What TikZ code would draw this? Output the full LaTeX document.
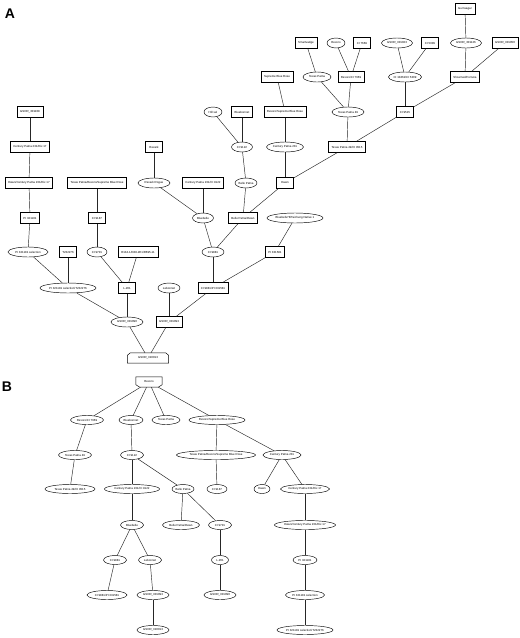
\documentclass[tikz,border=0pt]{standalone}
\usepackage{fontspec}
\setmainfont{Liberation Sans}
\usetikzlibrary{shapes.geometric}
\newcommand\zt[1]{\makebox[0pt]{#1}}
\tikzset{
  lbl/.style={font=\fontsize{2.9}{3}\selectfont},
  bx/.style={lbl, draw, rectangle, inner xsep=3pt, inner ysep=0pt, minimum height=11pt, minimum width=17pt, line width=0.45pt},
  el/.style={lbl, draw, ellipse, inner sep=0pt, minimum height=10pt, line width=0.45pt},
  bel/.style={el, minimum height=9pt},
  hs/.style={lbl, rectangle, inner sep=0pt, minimum height=10pt},
  edge/.style={line width=0.45pt, black!85},
  panel/.style={font=\fontsize{14}{14}\selectfont\bfseries}
}
\begin{document}
\begin{tikzpicture}[x=1pt,y=-1pt]
\useasboundingbox (0,0) rectangle (520,638);
\fill[white] (0,0) rectangle (520,638);

% ---------------- Panel A ----------------
\node[panel] (labA) at (10,14) {A};

\node[bx] (gum) at (465,9) {Gumsagar};

\node[bx] (smart) at (306,43) {Smartvadge};
\node[el,minimum width=18pt] (rex) at (336,43) {\zt{Rexoro}};
\node[bx] (ci7669) at (362,43) {CI 7669};
\node[el,minimum width=31pt] (g023) at (397,43) {\zt{GSOR\_301023}};
\node[bx] (ci5309) at (430,43) {CI 5309};
\node[el,minimum width=31pt] (g126) at (466,43) {\zt{GSOR\_301126}};
\node[bx] (g050) at (505,43) {GSOR\_301050};

\node[bx] (sbr) at (277,77) {Supreme Blue Rose};
\node[el,minimum width=28pt] (tp) at (317,77) {\zt{Texas Patna}};
\node[bx] (rexci) at (351,77) {Rexoro/CI 7669};
\node[el,minimum width=33pt] (ci10462) at (405,77) {\zt{CI 10462/CI 5309}};
\node[bx] (shoe) at (465,77) {Shoemed/Fortuna};

\node[bx] (g108) at (30,112) {GSOR\_301108};
\node[el,minimum width=18pt] (hill) at (213,112) {\zt{Hill sel}};
\node[bx] (bonnet) at (242,112) {Bluebonnet};
\node[bx] (rsbr) at (285,112) {Rexoro/Supreme Blue Rose};
\node[el,minimum width=32pt] (tp49) at (348,112) {\zt{Texas Patna 49}};
\node[bx] (ci9515) at (405,112) {CI 9515};

\node[bx] (cpdix) at (30,147) {Century Patna 231/Dix 17};
\node[bx] (rexark) at (154,147) {Rexark};
\node[el,minimum width=21pt] (ci9122) at (242,147) {\zt{CI 9122}};
\node[el,minimum width=37pt] (cp231) at (285,147) {\zt{Century Patna 231}};
\node[bx] (tp49ci) at (347,147) {Texas Patna 49/CI 9515};

\node[bx] (dcpdix) at (29,183) {Dawn/Century Patna 231/Dix 17};
\node[bx] (tprsbr) at (97,183) {Texas Patna/Rexoro/Supreme Blue Rose};
\node[el,minimum width=32pt] (rrogue) at (154,183) {\zt{Rexark Rogue}};
\node[bx] (cpci) at (203,183) {Century Patna 231/CI 9122};
\node[el,minimum width=22pt] (belle) at (246,183) {\zt{Belle Patna}};
\node[bx] (dawn) at (285,183) {Dawn};

\node[bx] (pi321) at (30,218) {PI 321181};
\node[bx] (ci9187) at (97,218) {CI 9187};
\node[el,minimum width=21pt] (bluebelle) at (203,218) {\zt{Bluebelle}};
\node[bx] (bpdawn) at (243,218) {Belle Patna/Dawn};
\node[el,minimum width=56pt] (bb8) at (295,218) {\zt{Bluebelle*8/Taichung Native 1}};

\node[el,minimum width=40pt] (pisel) at (28,252) {\zt{PI 321181 selection}};
\node[bx] (t232) at (68,252) {T232276};
\node[el,minimum width=20pt] (ci9701) at (97,252) {\zt{CI 9701}};
\node[bx] (r134) at (138,252) {R134-1/R48-2E1/R695-11};
\node[el,minimum width=22pt] (ci9881) at (213,252) {\zt{CI 9881}};
\node[bx] (pi331) at (275,252) {PI 331581};

\node[el,minimum width=56pt] (piselT) at (68,288) {\zt{PI 321181 selection/T232276}};
\node[bx] (l201) at (127,288) {L-201};
\node[el,minimum width=22pt] (lebonnet) at (169,288) {\zt{Lebonnet}};
\node[bx] (ci9881pi) at (213,288) {CI 9881/PI 331581};

\node[el,minimum width=32pt] (g090) at (127,322) {\zt{GSOR\_301090}};
\node[bx] (g093) at (169,322) {GSOR\_301093};

\node[hs,minimum width=41pt] (g013) at (148,358) {GSOR\_310013};
\draw[line width=0.45pt] (g013.south west) -- (g013.south east) -- ([yshift=-2.5pt]g013.north east)
  -- ([xshift=-3pt]g013.north east) -- ([xshift=3pt]g013.north west)
  -- ([yshift=-2.5pt]g013.north west) -- cycle;

% edges A
\draw[edge] (gum) -- (g126);
\draw[edge] (g126) -- (shoe);
\draw[edge] (g050) -- (shoe);
\draw[edge] (smart) -- (tp);
\draw[edge] (rex) -- (rexci);
\draw[edge] (ci7669) -- (rexci);
\draw[edge] (g023) -- (ci10462);
\draw[edge] (ci5309) -- (ci10462);
\draw[edge] (tp) -- (tp49);
\draw[edge] (rexci) -- (tp49);
\draw[edge] (ci10462) -- (ci9515);
\draw[edge] (shoe) -- (ci9515);
\draw[edge] (sbr) -- (rsbr);
\draw[edge] (rsbr) -- (cp231);
\draw[edge] (tp49) -- (tp49ci);
\draw[edge] (ci9515) -- (tp49ci);
\draw[edge] (cp231) -- (dawn);
\draw[edge] (tp49ci) -- (dawn);
\draw[edge] (hill) -- (ci9122);
\draw[edge] (bonnet) -- (ci9122);
\draw[edge] (ci9122) -- (belle);
\draw[edge] (belle) -- (bpdawn);
\draw[edge] (dawn) -- (bpdawn);
\draw[edge] (rexark) -- (rrogue);
\draw[edge] (rrogue) -- (bluebelle);
\draw[edge] (cpci) -- (bluebelle);
\draw[edge] (bluebelle) -- (ci9881);
\draw[edge] (bpdawn) -- (ci9881);
\draw[edge] (ci9881) -- (ci9881pi);
\draw[edge] (bb8) -- (pi331);
\draw[edge] (pi331) -- (ci9881pi);
\draw[edge] (g108) -- (cpdix);
\draw[edge] (cpdix) -- (dcpdix);
\draw[edge] (dcpdix) -- (pi321);
\draw[edge] (pi321) -- (pisel);
\draw[edge] (pisel) -- (piselT);
\draw[edge] (t232) -- (piselT);
\draw[edge] (tprsbr) -- (ci9187);
\draw[edge] (ci9187) -- (ci9701);
\draw[edge] (ci9701) -- (l201);
\draw[edge] (r134) -- (l201);
\draw[edge] (l201) -- (g090);
\draw[edge] (piselT) -- (g090);
\draw[edge] (lebonnet) -- (g093);
\draw[edge] (ci9881pi) -- (g093);
\draw[edge] (g090) -- (g013);
\draw[edge] (g093) -- (g013);

% ---------------- Panel B ----------------
\node[panel] (labB) at (7,387) {B};

\node[hs,minimum width=26pt] (brex) at (149,382) {Rexoro};
\draw[line width=0.45pt] (brex.north west) -- (brex.north east) -- ([yshift=2.5pt]brex.south east)
  -- ([xshift=-4pt]brex.south east) -- ([xshift=4pt]brex.south west)
  -- ([yshift=2.5pt]brex.south west) -- cycle;

\node[bel,minimum width=33pt] (brexci) at (87,420) {\zt{Rexoro/CI 7669}};
\node[bel,minimum width=24pt] (bbonnet) at (131,420) {\zt{Bluebonnet}};
\node[bel,minimum width=28pt] (btp) at (166,420) {\zt{Texas Patna}};
\node[bel,minimum width=56pt] (brsbr) at (217,420) {\zt{Rexoro/Supreme Blue Rose}};

\node[bel,minimum width=33pt] (btp49) at (75,455) {\zt{Texas Patna 49}};
\node[bel,minimum width=23pt] (bci9122) at (132,455) {\zt{CI 9122}};
\node[bel,minimum width=79pt] (btprsbr) at (216,455) {\zt{Texas Patna/Rexoro/Supreme Blue Rose}};
\node[bel,minimum width=38pt] (bcp231) at (282,455) {\zt{Century Patna 231}};

\node[bel,minimum width=50pt] (btp49ci) at (70,489) {\zt{Texas Patna 49/CI 9515}};
\node[bel,minimum width=55pt] (bcpci) at (132,489) {\zt{Century Patna 231/CI 9122}};
\node[bel,minimum width=22pt] (bbelle) at (183,489) {\zt{Belle Patna}};
\node[bel,minimum width=20pt] (bci9187) at (217,489) {\zt{CI 9187}};
\node[bel,minimum width=16pt] (bdawn) at (262,489) {\zt{Dawn}};
\node[bel,minimum width=49pt] (bcpdix) at (305,489) {\zt{Century Patna 231/Dix 17}};

\node[bel,minimum width=23pt] (bbluebelle) at (132,525) {\zt{Bluebelle}};
\node[bel,minimum width=37pt] (bbpdawn) at (181,525) {\zt{Belle Patna/Dawn}};
\node[bel,minimum width=23pt] (bci9701) at (220,525) {\zt{CI 9701}};
\node[bel,minimum width=61pt] (bdcpdix) at (305,525) {\zt{Dawn/Century Patna 231/Dix 17}};

\node[bel,minimum width=23pt] (bci9881) at (115,560) {\zt{CI 9881}};
\node[bel,minimum width=23pt] (blebonnet) at (150,560) {\zt{Lebonnet}};
\node[bel,minimum width=17pt] (bl201) at (220,560) {\zt{L-201}};
\node[bel,minimum width=24pt] (bpi321) at (305,560) {\zt{PI 321181}};

\node[bel,minimum width=40pt] (bci9881pi) at (107,595) {\zt{CI 9881/PI 331581}};
\node[bel,minimum width=32pt] (bg093) at (153,595) {\zt{GSOR\_301093}};
\node[bel,minimum width=32pt] (bg090) at (220,595) {\zt{GSOR\_301090}};
\node[bel,minimum width=39pt] (bpisel) at (305,595) {\zt{PI 321181 selection}};

\node[bel,minimum width=32pt] (bg013) at (153,630) {\zt{GSOR\_310013}};
\node[bel,minimum width=56pt] (bpiselT) at (305,630) {\zt{PI 321181 selection/T232276}};

% edges B
\draw[edge] (brex) -- (brexci);
\draw[edge] (brex) -- (bbonnet);
\draw[edge] (brex) -- (btp);
\draw[edge] (brex) -- (brsbr);
\draw[edge] (brexci) -- (btp49);
\draw[edge] (btp49) -- (btp49ci);
\draw[edge] (bbonnet) -- (bci9122);
\draw[edge] (bci9122) -- (bcpci);
\draw[edge] (bci9122) -- (bbelle);
\draw[edge] (bcpci) -- (bbluebelle);
\draw[edge] (bbluebelle) -- (bci9881);
\draw[edge] (bbluebelle) -- (blebonnet);
\draw[edge] (bci9881) -- (bci9881pi);
\draw[edge] (blebonnet) -- (bg093);
\draw[edge] (bg093) -- (bg013);
\draw[edge] (bbelle) -- (bbpdawn);
\draw[edge] (bbelle) -- (bci9701);
\draw[edge] (bci9701) -- (bl201);
\draw[edge] (bl201) -- (bg090);
\draw[edge] (brsbr) -- (btprsbr);
\draw[edge] (brsbr) -- (bcp231);
\draw[edge] (btprsbr) -- (bci9187);
\draw[edge] (bcp231) -- (bdawn);
\draw[edge] (bcp231) -- (bcpdix);
\draw[edge] (bcpdix) -- (bdcpdix);
\draw[edge] (bdcpdix) -- (bpi321);
\draw[edge] (bpi321) -- (bpisel);
\draw[edge] (bpisel) -- (bpiselT);
\end{tikzpicture}
\end{document}
